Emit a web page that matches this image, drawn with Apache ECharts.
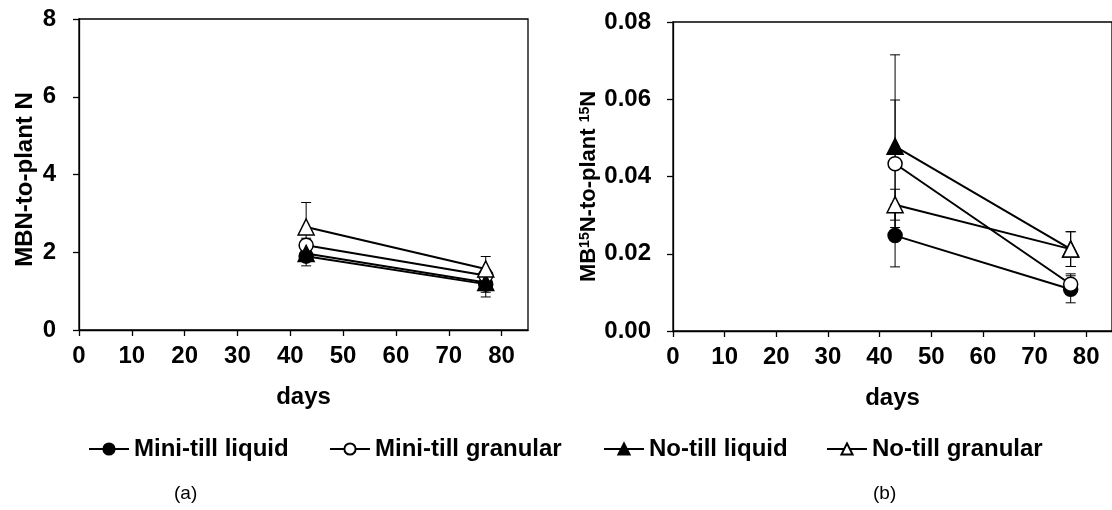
<!DOCTYPE html>
<html><head><meta charset="utf-8">
<script src="https://cdn.jsdelivr.net/npm/echarts@6/dist/echarts.min.js"></script>
<style>html,body{margin:0;padding:0;background:#fff}#c{width:1112px;height:510px}</style>
</head><body><div id="c"></div>
<script>
const days = [43, 77];
const xTicks = [0, 10, 20, 30, 40, 50, 60, 70, 80];
const seriesNames = ['Mini-till liquid', 'Mini-till granular', 'No-till liquid', 'No-till granular'];
// (a) MBN-to-plant N
const mbnMiniLiquid = [1.90, 1.18];
const mbnMiniGranular = [2.18, 1.40];
const mbnNoLiquid = [1.97, 1.22];
const mbnNoGranular = [2.65, 1.57];
const mbnErrMiniLiquid = [0.25, 0.33];
const mbnErrMiniGranular = [0.18, 0.15];
const mbnErrNoLiquid = [0.2, 0.25];
const mbnErrNoGranular = [0.63, 0.32];
// (b) MB15N-to-plant 15N
const mb15MiniLiquid = [0.0247, 0.0108];
const mb15MiniGranular = [0.0433, 0.0121];
const mb15NoLiquid = [0.0478, 0.0212];
const mb15NoGranular = [0.0327, 0.0212];
const mb15ErrMiniLiquid = [0.0081, 0.0035];
const mb15ErrMiniGranular = [0.0165, 0.0027];
const mb15ErrNoLiquid = [0.0237, 0.0045];
const mb15ErrNoGranular = [0.004, 0.0045];

const styles = [
  {symbol: 'circle', size: 14, fill: '#000'},
  {symbol: 'circle', size: 14, fill: '#fff'},
  {symbol: 'triangle', size: 16, fill: '#000'},
  {symbol: 'triangle', size: 16, fill: '#fff'}
];
const dataA = [mbnMiniLiquid, mbnMiniGranular, mbnNoLiquid, mbnNoGranular];
const errA = [mbnErrMiniLiquid, mbnErrMiniGranular, mbnErrNoLiquid, mbnErrNoGranular];
const dataB = [mb15MiniLiquid, mb15MiniGranular, mb15NoLiquid, mb15NoGranular];
const errB = [mb15ErrMiniLiquid, mb15ErrMiniGranular, mb15ErrNoLiquid, mb15ErrNoGranular];

const FONT = 'Liberation Sans, Arial, sans-serif';
const FS = 24;
function xAxis(gi) {
  return {
    type: 'value', gridIndex: gi, min: 0, max: 85,
    name: 'days', nameLocation: 'middle', nameGap: 55,
    nameTextStyle: {fontFamily: FONT, fontWeight: 'bold', fontSize: FS, color: '#000'},
    axisLine: {lineStyle: {color: '#000', width: 1.3}},
    axisTick: {show: true, inside: false, length: 6, lineStyle: {color: '#000', width: 1.3}, customValues: xTicks},
    axisLabel: {fontFamily: FONT, fontWeight: 'bold', fontSize: FS, color: '#000', margin: 14, customValues: xTicks},
    splitLine: {show: false}
  };
}
function errSeries(gi, vals, errs) {
  const d = [];
  vals.forEach((v, k) => {
    days.forEach((x, i) => d.push([x, v[i] - errs[k][i], v[i] + errs[k][i]]));
  });
  return {
    type: 'custom', xAxisIndex: gi, yAxisIndex: gi, z: 1, silent: true,
    data: d,
    renderItem: function (params, api) {
      const x = api.value(0);
      const lo = api.coord([x, api.value(1)]);
      const hi = api.coord([x, api.value(2)]);
      const w = 5;
      const st = {stroke: '#000', lineWidth: 1};
      return {type: 'group', children: [
        {type: 'line', shape: {x1: lo[0], y1: lo[1], x2: hi[0], y2: hi[1]}, style: st},
        {type: 'line', shape: {x1: lo[0] - w, y1: lo[1], x2: lo[0] + w, y2: lo[1]}, style: st},
        {type: 'line', shape: {x1: hi[0] - w, y1: hi[1], x2: hi[0] + w, y2: hi[1]}, style: st}
      ]};
    }
  };
}
const series = [errSeries(0, dataA, errA), errSeries(1, dataB, errB)];
[dataA, dataB].forEach((set, gi) => {
  set.forEach((vals, k) => {
    series.push({
      name: seriesNames[k], type: 'line', xAxisIndex: gi, yAxisIndex: gi, z: 3,
      data: days.map((x, i) => [x, vals[i]]),
      symbol: styles[k].symbol, symbolSize: styles[k].size,
      lineStyle: {color: '#000', width: 2},
      itemStyle: {color: styles[k].fill, borderColor: '#000', borderWidth: 1.5, opacity: 1},
      emphasis: {disabled: true}, animation: false
    });
  });
});
const legendLeft = [88, 329, 603, 826];
const legends = seriesNames.map((n, i) => ({
  data: [n], left: legendLeft[i], top: 437, padding: 0, itemWidth: 40, itemHeight: 14, itemGap: 4,
  textStyle: {fontFamily: FONT, fontWeight: 'bold', fontSize: FS, color: '#000'},
  selectedMode: false
}));

const chart = echarts.init(document.getElementById('c'), null, {renderer: 'canvas'});
chart.setOption({
  animation: false,
  backgroundColor: '#fff',
  grid: [
    {left: 79, top: 19, width: 449, height: 311, show: true, borderColor: '#000', borderWidth: 1.3, containLabel: false},
    {left: 673, top: 22, width: 447, height: 309, show: true, borderColor: '#000', borderWidth: 1.3, containLabel: false}
  ],
  xAxis: [xAxis(0), xAxis(1)],
  yAxis: [
    {type: 'value', gridIndex: 0, min: 0, max: 8, interval: 2,
     name: 'MBN-to-plant N', nameLocation: 'middle', nameGap: 42, nameRotate: 90,
     nameTextStyle: {fontFamily: FONT, fontWeight: 'bold', fontSize: FS, color: '#000', padding: [0, 10, 0, 0]},
     axisLine: {show: true, lineStyle: {color: '#000', width: 1.3}},
     axisTick: {show: true, length: 6, lineStyle: {color: '#000', width: 1.3}},
     axisLabel: {fontFamily: FONT, fontWeight: 'bold', fontSize: FS, color: '#000', margin: 23},
     splitLine: {show: false}},
    {type: 'value', gridIndex: 1, min: 0, max: 0.08, interval: 0.02,
     name: '{n|MB}{s|15}{n|N-to-plant }{s|15}{n|N}', nameLocation: 'middle', nameGap: 70, nameRotate: 90,
     nameTextStyle: {fontFamily: FONT, fontWeight: 'bold', fontSize: FS, color: '#000', padding: [0, 20, 0, 0],
       rich: {n: {fontFamily: FONT, fontWeight: 'bold', fontSize: 22, color: '#000'},
              s: {fontFamily: FONT, fontWeight: 'bold', fontSize: 14, color: '#000', verticalAlign: 'top', padding: [0,0,8,0]}}},
     axisLine: {show: true, lineStyle: {color: '#000', width: 1.3}},
     axisTick: {show: true, length: 6, lineStyle: {color: '#000', width: 1.3}},
     axisLabel: {fontFamily: FONT, fontWeight: 'bold', fontSize: FS, color: '#000', margin: 22,
       formatter: v => v.toFixed(2)},
     splitLine: {show: false}}
  ],
  legend: legends,
  graphic: [
    {type: 'text', left: 174, top: 484, style: {text: '(a)', font: '19px ' + FONT, fill: '#000'}},
    {type: 'text', left: 873, top: 484, style: {text: '(b)', font: '19px ' + FONT, fill: '#000'}}
  ],
  series: series
});
</script></body></html>
